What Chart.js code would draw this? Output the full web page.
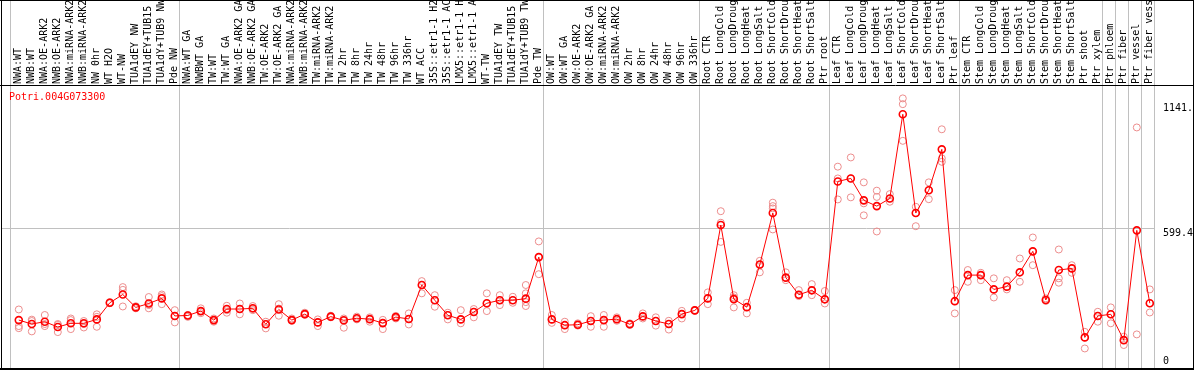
<!DOCTYPE html>
<html><head><meta charset="utf-8">
<script src="https://cdn.jsdelivr.net/npm/chart.js@4/dist/chart.umd.min.js"></script>
<style>html,body{margin:0;padding:0;background:#fff;}canvas{display:block;}</style>
</head><body>
<canvas id="c" width="1194" height="370"></canvas>
<script>
const geneTitle = 'Potri.004G073300';

const categories = [
  'NWA:WT','NWB:WT','NWA:OE-ARK2','NWB:OE-ARK2','NWA:miRNA-ARK2','NWB:miRNA-ARK2','NW 0hr','WT H2O','WT-NW','TUA1dEY NW','TUA1dEY+TUB15','TUA1dY+TUB9 NW','Pde NW',
  'NWA:WT GA','NWBWT GA','TW:WT','TW:WT GA','NWA:OE-ARK2 GA','NWB:OE-ARK2 GA','TW:OE-ARK2','TW:OE-ARK2 GA','NWA:miRNA-ARK2','NWB:miRNA-ARK2','TW:miRNA-ARK2','TW:miRNA-ARK2',
  'TW 2hr','TW 8hr','TW 24hr','TW 48hr','TW 96hr','TW 336hr','WT ACC','35S::etr1-1 H2','35S::etr1-1 AC','LMX5::etr1-1 H','LMX5::etr1-1 A','WT-TW','TUA1dEY TW','TUA1dEY+TUB15','TUA1dY+TUB9 TW','Pde TW',
  'OW:WT','OW:WT GA','OW:OE-ARK2','OW:OE-ARK2 GA','OW:miRNA-ARK2','OW:miRNA-ARK2','OW 2hr','OW 8hr','OW 24hr','OW 48hr','OW 96hr','OW 336hr',
  'Root CTR','Root LongCold','Root LongDroug','Root LongHeat','Root LongSalt','Root ShortCold','Root ShortDrou','Root ShortHeat','Root ShortSalt','Ptr root',
  'Leaf CTR','Leaf LongCold','Leaf LongDroug','Leaf LongHeat','Leaf LongSalt','Leaf ShortCold','Leaf ShortDrou','Leaf ShortHeat','Leaf ShortSalt','Ptr leaf',
  'Stem CTR','Stem LongCold','Stem LongDroug','Stem LongHeat','Stem LongSalt','Stem ShortCold','Stem ShortDrou','Stem ShortHeat','Stem ShortSalt','Ptr shoot','Ptr xylem',
  'Ptr phloem','Ptr fiber','Ptr vessel','Ptr fiber vess'
];

const meanValues = [
  202,185,195,172,188,188,205,277,313,257,274,296,220,
  222,241,202,250,250,253,184,248,202,228,192,217,201,210,206,189,215,207,354,288,223,205,237,275,288,288,295,475,
  205,180,182,198,202,206,184,218,198,185,228,244,
  296,614,293,258,443,666,386,312,331,292,
  803,816,721,696,729,1094,666,765,942,284,
  397,397,335,347,409,500,289,419,426,127,220,
  227,115,591,275
];

const replicates = [
  [248,176,167],[198,153,204],[224,185,176],[185,150,181],[209,202,163],[198,185,170],[227,216,173],[280,275,277],[345,333,261],[262,253,257],[302,267,253],[313,306,271],[245,220,192],
  [224,220,216],[253,240,232],[209,202,195],[264,245,234],[274,250,227],[263,250,245],[195,185,166],[271,252,221],[209,202,199],[234,228,225],[205,192,176],[221,217,214],
  [209,199,169],[217,210,205],[214,206,195],[203,190,163],[220,215,209],[231,207,183],[371,354,318],[310,289,260],[234,224,205],[245,205,188],[250,237,214],[318,274,241],[310,288,267],[303,288,277],[354,318,280,263],[543,475,401],
  [224,205,190],[195,180,163],[188,182,178],[219,198,173],[224,202,173],[214,206,199],[188,184,181],[231,218,209],[214,198,178],[199,185,161],[242,228,209],[246,244,242],
  [322,296,271],[674,624,541],[310,300,257],[277,258,231],[459,440,409],[711,696,686,595],[409,386,375],[332,312,306],[358,331,310],[328,292,274],
  [867,816,725],[907,816,734],[799,708,656],[763,736,586],[748,729,715],[1163,1138,979],[693,666,609],[799,765,726],[1029,903,888],[332,284,231],
  [419,397,368],[407,397,375],[383,335,300],[375,346,335],[469,409,368],[560,500,440],[296,289,285],[508,383,364],[440,426,407],[151,127,79],[238,220,195],
  [257,227,188],[130,115,94],[1037,140],[335,275,235]
];

// first index of each group (plus the end) -> vertical separators
const groupStarts = [0,13,41,53,63,73,84,85,86,87,88];

const yTickValues = [599.4, 1141.8];
const yTickLabels = ['599.4', '1141.'];
const yGridValues = [599.4];
const zeroTickValues = [0];
const zeroTickLabels = ['0'];

// layout constants (style)
const pointInset = 0.638;
const xMin = -1.369, xMax = 87.40;
const yMin = -10, yMax = 1221;
const mono = {family: 'DejaVu Sans Mono', size: 10};
const gridGray = '#c0c0c0';

function noPad(s) { s.paddingLeft = 0; s.paddingRight = 0; s.paddingTop = 0; s.paddingBottom = 0; }

const framePlugin = {
  id: 'frame',
  afterDraw(chart) {
    const {ctx, chartArea, width, height} = chart;
    ctx.save();
    ctx.strokeStyle = '#000';
    ctx.lineWidth = 1;
    ctx.beginPath();
    ctx.moveTo(1.5, 0); ctx.lineTo(1.5, height);
    ctx.moveTo(width - 0.5, 0); ctx.lineTo(width - 0.5, height);
    ctx.moveTo(0, 0.5); ctx.lineTo(width, 0.5);
    ctx.moveTo(0, chartArea.top + 0.5); ctx.lineTo(width, chartArea.top + 0.5);
    ctx.stroke();
    ctx.fillStyle = '#000';
    ctx.fillRect(0, chartArea.bottom - 1, width, 2);
    ctx.fillStyle = '#ff0000';
    ctx.font = '10px "DejaVu Sans Mono"';
    ctx.textBaseline = 'top';
    ctx.textAlign = 'left';
    ctx.fillText(geneTitle, chartArea.left + 8, chartArea.top + 7);
    ctx.restore();
  }
};

new Chart(document.getElementById('c'), {
  data: {
    datasets: [
      {
        type: 'line', label: 'mean',
        data: meanValues.map((v, i) => ({x: i, y: v})),
        borderColor: '#ff0000', borderWidth: 1, tension: 0,
        pointRadius: 3.5, pointBorderWidth: 1.6, pointBorderColor: '#ff0000',
        pointBackgroundColor: 'rgba(0,0,0,0)', fill: false, order: 1,
        xAxisID: 'x', yAxisID: 'y'
      },
      {
        type: 'scatter', label: 'replicates',
        data: replicates.flatMap((arr, i) => arr.map(v => ({x: i, y: v}))),
        borderColor: 'rgb(236,140,140)', backgroundColor: 'rgba(0,0,0,0)',
        pointRadius: 3.5, pointBorderWidth: 1, showLine: false, order: 2,
        xAxisID: 'x', yAxisID: 'y'
      }
    ]
  },
  options: {
    responsive: false, animation: false, devicePixelRatio: 1,
    layout: {padding: {left: 1, right: 0, top: 0, bottom: 1}, autoPadding: false},
    plugins: {legend: {display: false}, tooltip: {enabled: false}, title: {display: false}},
    scales: {
      x: {
        type: 'linear', position: 'top', min: xMin, max: xMax, weight: 1,
        afterBuildTicks: s => { s.ticks = categories.map((_, i) => ({value: i})); },
        afterFit: s => { s.height = 85; noPad(s); },
        grid: {display: false, drawTicks: false},
        border: {display: false},
        ticks: {
          autoSkip: false, minRotation: 90, maxRotation: 90, padding: 1, labelOffset: 12,
          color: '#000', font: mono,
          callback: v => categories[Math.round(v)]
        }
      },
      xg: {
        type: 'linear', position: 'top', min: xMin, max: xMax, weight: 0,
        afterBuildTicks: s => { s.ticks = groupStarts.map(k => ({value: k - pointInset})); },
        afterFit: s => { s.height = 0; noPad(s); },
        grid: {color: gridGray, lineWidth: 1, drawTicks: true, tickLength: 85},
        border: {display: false},
        ticks: {display: false, autoSkip: false}
      },
      y: {
        type: 'linear', position: 'right', min: yMin, max: yMax, weight: 0,
        afterBuildTicks: s => { s.ticks = yTickValues.map(v => ({value: v})); },
        afterFit: s => { s.width = 39; noPad(s); },
        grid: {drawTicks: false, color: c => (c.tick && yGridValues.includes(c.tick.value)) ? gridGray : 'rgba(0,0,0,0)'},
        border: {display: false},
        ticks: {autoSkip: false, align: 'start', padding: 8, color: '#000', font: mono, callback: (v, i) => yTickLabels[i]}
      },
      yz: {
        type: 'linear', position: 'right', min: yMin, max: yMax, weight: 1,
        afterBuildTicks: s => { s.ticks = zeroTickValues.map(v => ({value: v})); },
        afterFit: s => { s.width = 0; noPad(s); },
        grid: {display: false, drawTicks: false},
        border: {display: false},
        ticks: {autoSkip: false, mirror: true, align: 'end', padding: -25, color: '#000', font: mono, callback: (v, i) => zeroTickLabels[i]}
      }
    }
  },
  plugins: [framePlugin]
});
</script>
</body></html>
